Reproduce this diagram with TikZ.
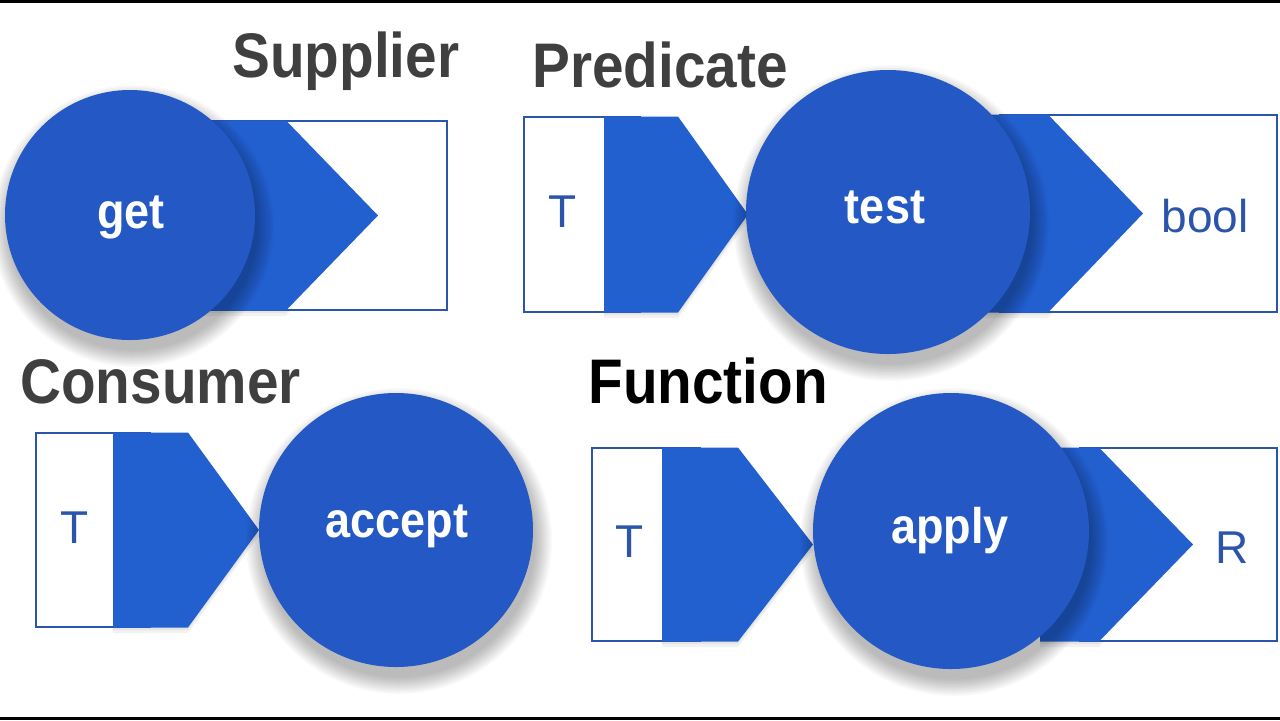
\documentclass[tikz,border=0pt]{standalone}
\usepackage{fontspec}
\setmainfont{Liberation Sans}
\newfontfamily\condfont{Liberation Sans}[FakeStretch=0.9]
\definecolor{circblue}{HTML}{2458C4}
\definecolor{arrblue}{HTML}{2260D0}
\definecolor{lineblue}{HTML}{2B55AA}
\definecolor{titlegray}{HTML}{3F3F3F}
\newcommand\softshadow[3]{%
  \foreach \k in {0,...,11}{%
    \fill[black, opacity=0.022] (#1+3,#2+11) circle[radius={#3+16-1.5*\k}];
  }}
\tikzset{
  titletxt/.style={anchor=base west, inner sep=0pt, font=\condfont\bfseries\fontsize{31.5}{34}\selectfont},
  verbtxt/.style={anchor=base, inner sep=0pt, text=white, font=\condfont\bfseries\fontsize{25}{28}\selectfont},
  typetxt/.style={anchor=base, inner sep=0pt, text=lineblue, font=\fontsize{23}{26}\selectfont},
  verbcircle/.style={circle, fill=circblue, draw=none, inner sep=0pt, minimum size=#1},
  iobox/.style={draw=lineblue, line width=1pt, fill=white},
  arrowshape/.style={fill=arrblue, draw=none},
  boxshadow/.style={fill=black, opacity=0.05},
}
\begin{document}
\begin{tikzpicture}[x=0.5pt,y=-0.5pt]
\useasboundingbox (0,0) rectangle (1280,720);
\fill[white] (0,0) rectangle (1280,720);
\fill[black] (0,0) rectangle (1280,3);
\fill[black] (0,717) rectangle (1280,720);

% ---------- titles ----------
\node[titletxt, text=titlegray] (tsup) at (232,77) {Supplier};
\node[titletxt, text=titlegray] (tpred) at (532,87) {Predicate};
\node[titletxt, text=titlegray] (tcons) at (20,403) {Consumer};
\node[titletxt, text=black] (tfun) at (588,403) {Function};

% ---------- Supplier ----------
\foreach \d in {3,6}{\fill[boxshadow] (200,121+\d) -- (286,121+\d) -- (378,215.5+\d) -- (286,310+\d) -- (200,310+\d) -- cycle;}
\draw[iobox] (210,121) rectangle (447,310);
\fill[arrowshape] (200,120.5) -- (286,120.5) -- (378,215.5) -- (286,310.5) -- (200,310.5) -- cycle;
\softshadow{130}{215}{125}
\node[verbcircle=125pt] (get) at (130,215) {};
\node[verbtxt] (getlbl) at (131,228) {get};

% ---------- Predicate ----------
\foreach \d in {3,6}{\fill[boxshadow] (604,117+\d) -- (678,117+\d) -- (748,214.5+\d) -- (678,312+\d) -- (604,312+\d) -- cycle;}
\draw[iobox] (524,117) rectangle (640,312);
\fill[arrowshape] (604,116.5) -- (678,116.5) -- (748,214.5) -- (678,312.5) -- (604,312.5) -- cycle;
\node[typetxt] (pT) at (563,227) {T};
\foreach \d in {3,6}{\fill[boxshadow] (960,115+\d) -- (1048,115+\d) -- (1143,213.5+\d) -- (1048,312+\d) -- (960,312+\d) -- cycle;}
\draw[iobox] (1000,115) rectangle (1277,312);
\fill[arrowshape] (960,114.5) -- (1048,114.5) -- (1143,213.5) -- (1048,312.5) -- (960,312.5) -- cycle;
\node[typetxt] (pbool) at (1205,232) {bool};
\softshadow{888}{212}{142}
\node[verbcircle=142pt] (test) at (888,212) {};
\node[verbtxt] (testlbl) at (885,223) {test};

% ---------- Consumer ----------
\foreach \d in {3,6}{\fill[boxshadow] (113,433+\d) -- (188,433+\d) -- (259,530+\d) -- (188,627+\d) -- (113,627+\d) -- cycle;}
\draw[iobox] (36,433) rectangle (150,627);
\fill[arrowshape] (113,432.5) -- (188,432.5) -- (259,530) -- (188,627.5) -- (113,627.5) -- cycle;
\node[typetxt] (cT) at (75,543) {T};
\softshadow{396}{530}{137}
\node[verbcircle=137pt] (accept) at (396,530) {};
\node[verbtxt] (acceptlbl) at (397,537) {accept};

% ---------- Function ----------
\foreach \d in {3,6}{\fill[boxshadow] (662,448+\d) -- (738,448+\d) -- (813,544.5+\d) -- (738,641+\d) -- (662,641+\d) -- cycle;}
\draw[iobox] (592,448) rectangle (700,641);
\fill[arrowshape] (662,447.5) -- (738,447.5) -- (813,544.5) -- (738,641.5) -- (662,641.5) -- cycle;
\node[typetxt] (fT) at (630,557) {T};
\foreach \d in {3,6}{\fill[boxshadow] (1040,448+\d) -- (1099,448+\d) -- (1193,544.5+\d) -- (1099,641+\d) -- (1040,641+\d) -- cycle;}
\draw[iobox] (1080,448) rectangle (1277,641);
\fill[arrowshape] (1040,447.5) -- (1099,447.5) -- (1193,544.5) -- (1099,641.5) -- (1040,641.5) -- cycle;
\node[typetxt] (fR) at (1232,563) {R};
\softshadow{951}{531}{138}
\node[verbcircle=138pt] (apply) at (951,531) {};
\node[verbtxt] (applylbl) at (950,543) {apply};
\end{tikzpicture}
\end{document}
